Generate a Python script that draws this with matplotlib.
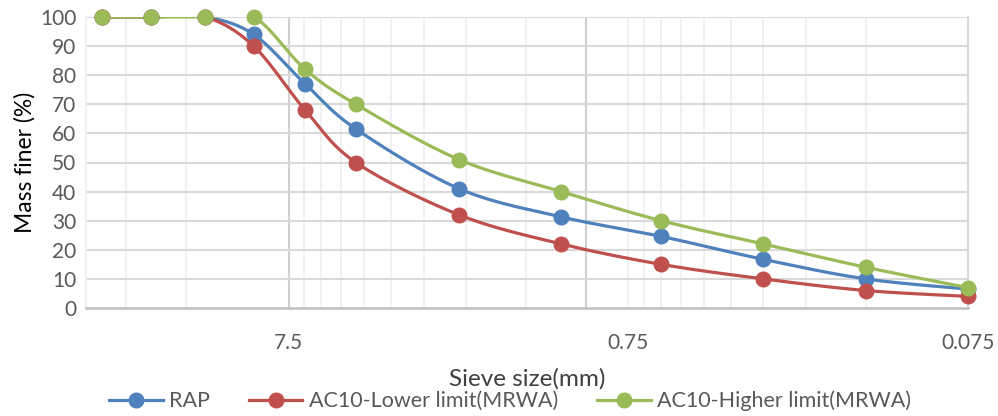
import numpy as np
import matplotlib
matplotlib.use("Agg")
import matplotlib.pyplot as plt
from matplotlib.lines import Line2D

plt.rcParams['font.family'] = ['Lato', 'DejaVu Sans']

# sieve sizes (mm) and percent passing
sieve = [26.5, 19, 13.2, 9.5, 6.7, 4.75, 2.36, 1.18, 0.6, 0.3, 0.15, 0.075]
rap = [100, 100, 100, 94, 77, 61.5, 41, 31.3, 24.6, 16.7, 10, 6.5]
lower = [100, 100, 100, 90, 68, 50, 32, 22, 15, 10, 6, 4]
upper = [100, 100, 100, 100, 82, 70, 51, 40, 30, 22, 14, 7]

series_names = ['RAP', 'AC10-Lower limit(MRWA)', 'AC10-Higher limit(MRWA)']
series_colors = ['#4F81BD', '#C0504D', '#9BBB59']
xtick_vals = [7.5, 0.75, 0.075]
ytick_vals = list(range(0, 101, 10))


def smooth(xs, ys, n=30):
    # cubic bezier through the points (catmull-rom style), done in log-x space
    u = np.log10(np.asarray(xs, float))
    v = np.asarray(ys, float)
    P = np.column_stack([u, v])
    Pp = np.vstack([P[0], P, P[-1]])
    out = []
    t = np.linspace(0, 1, n)[:, None]
    for i in range(len(P) - 1):
        p0, p1, p2, p3 = Pp[i], Pp[i + 1], Pp[i + 2], Pp[i + 3]
        c1 = p1 + (p2 - p0) / 6
        c2 = p2 - (p3 - p1) / 6
        seg = ((1 - t) ** 3) * p1 + 3 * ((1 - t) ** 2) * t * c1 \
            + 3 * (1 - t) * t ** 2 * c2 + t ** 3 * p2
        out.append(seg if i == 0 else seg[1:])
    out = np.vstack(out)
    return 10 ** out[:, 0], out[:, 1]


fig = plt.figure(figsize=(9.98, 4.16), dpi=100)
ax = fig.add_axes([86 / 998, 108 / 416, 882 / 998, 291 / 416])
ax.set_xscale('log')
ax.set_xlim(29.6, 0.075)
ax.set_ylim(0, 100)

# vertical grid: light minors, darker majors
minors = []
for base in [0.075, 0.75, 7.5]:
    for k in range(1, 10):
        minors.append(base * k)
for xv in minors:
    if xv < 29.6:
        ax.axvline(xv, color='#F0F0F0', lw=1.3, zorder=0)
for xv in [7.5, 1.0]:
    ax.axvline(xv, color='#D0D0D0', lw=1.5, zorder=0)
for yv in ytick_vals[1:]:
    ax.axhline(yv, color='#D9D9D9', lw=1.5, zorder=0)

ax.spines['top'].set_visible(False)
ax.spines['left'].set_color('#F0F0F0')
ax.spines['left'].set_linewidth(1.3)
ax.spines['right'].set_color('#D9D9D9')
ax.spines['right'].set_linewidth(1.5)
ax.spines['bottom'].set_color('#BFBFBF')
ax.spines['bottom'].set_linewidth(1.8)

for ys, name, col in zip([rap, lower, upper], series_names, series_colors):
    sx, sy = smooth(sieve, ys)
    ax.plot(sx, sy, color=col, lw=2.3, zorder=3, solid_capstyle='round')
    ax.plot(sieve, ys, 'o', color=col, ms=10.5, zorder=4, clip_on=False)

ax.set_xticks(xtick_vals)
ax.set_xticklabels(['7.5', '0.75', '0.075'])
ax.xaxis.set_minor_locator(matplotlib.ticker.NullLocator())
ax.set_yticks(ytick_vals)
ax.tick_params(axis='both', length=0, labelsize=15, colors='#595959')
ax.tick_params(axis='x', pad=18)
ax.tick_params(axis='y', pad=7)

ax.set_ylabel('Mass finer (%)', fontsize=16.5, color='black', labelpad=3)
fig.text(527 / 998, 1 - 379 / 416, 'Sieve size(mm)', fontsize=17.5,
         color='#404040', ha='center', va='center')

handles = [Line2D([], [], color=c, lw=2.3, marker='o', ms=10.5)
           for c in series_colors]
fig.legend(handles, series_names, loc='center', ncol=3, frameon=False,
           bbox_to_anchor=(510 / 998, 1 - 401 / 416), fontsize=15.5,
           labelcolor='#595959', handlelength=2.5, columnspacing=1.8,
           handletextpad=0.3, borderaxespad=0, borderpad=0)

fig.savefig('out.png', dpi=100, facecolor='white')
